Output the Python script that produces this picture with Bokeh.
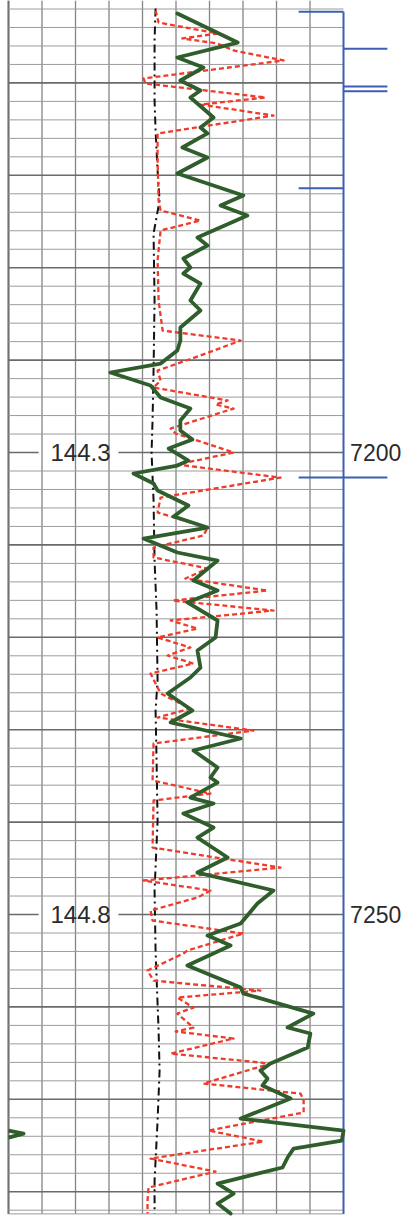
from bokeh.plotting import figure
from bokeh.models import Range1d
from bokeh.embed import file_html
from bokeh.resources import INLINE
from bokeh.core.properties import value

# ---- data (depth in ft, values in chart divisions 0-10) ----
green_depth = [7152.49, 7155.63, 7157.25, 7158.33, 7159.74, 7160.82, 7161.58, 7163.74, 7164.83, 7165.47,
               7166.99, 7168.07, 7169.80, 7172.18, 7173.27, 7174.35, 7176.73, 7177.60, 7179.00, 7179.98,
               7180.63, 7181.71, 7183.55, 7184.63, 7186.47, 7187.88, 7188.96, 7190.37, 7191.34, 7192.75,
               7194.05, 7195.24, 7196.54, 7197.62, 7198.59, 7199.57, 7200.87, 7201.41, 7202.27, 7203.36,
               7204.11, 7205.74, 7206.93, 7208.12, 7209.31, 7210.82, 7211.69, 7213.85, 7214.94, 7216.23,
               7218.18, 7220.02, 7221.43, 7223.27, 7224.35, 7226.08, 7227.92, 7229.22, 7230.95, 7232.25,
               7234.09, 7235.17, 7235.72, 7237.34, 7237.99, 7239.07, 7240.59, 7241.67, 7243.83, 7245.46,
               7247.40, 7248.81, 7250.98, 7252.28, 7253.36, 7255.52, 7257.90, 7258.55, 7260.72, 7262.23,
               7262.88, 7264.40, 7266.13, 7266.89, 7267.75, 7268.51, 7269.92, 7272.08, 7273.40, 7274.46,
               7275.33, 7276.30, 7277.38, 7279.12, 7280.20, 7281.28, 7282.36]
green_val = [5.04, 6.84, 5.04, 5.82, 5.13, 5.73, 5.43, 6.12, 5.73, 5.94,
             5.19, 5.94, 5.04, 7.01, 6.33, 7.13, 5.64, 5.94, 5.22, 5.43,
             5.22, 5.73, 5.43, 5.73, 5.13, 5.13, 5.04, 4.54, 3.04, 4.24,
             4.54, 5.43, 5.13, 5.13, 5.49, 4.78, 5.37, 5.04, 3.73, 4.33,
             4.45, 5.37, 4.93, 5.94, 4.03, 5.04, 6.24, 5.52, 6.24, 5.34,
             6.24, 6.18, 5.64, 5.73, 5.43, 4.75, 5.49, 4.84, 6.93, 5.52,
             6.24, 6.03, 6.24, 5.43, 6.12, 5.22, 6.12, 5.64, 6.54, 5.64,
             7.91, 7.43, 6.93, 5.94, 6.63, 5.34, 6.93, 7.01, 9.10, 8.33,
             9.01, 8.93, 7.82, 7.52, 7.73, 7.58, 8.42, 6.93, 10.0, 9.95,
             8.51, 8.33, 8.18, 6.24, 6.72, 6.24, 6.63]
# wrapped (backup) portion of the green curve shown at the left edge
green_wrap_depth = [7273.38, 7273.71, 7274.14]
green_wrap_val = [0.0, 0.45, 0.0]

red_depth = [7152.16, 7153.46, 7154.65, 7155.19, 7155.73, 7156.49, 7157.57, 7159.52, 7160.06, 7161.58,
             7162.34, 7163.53, 7165.47, 7168.40, 7172.73, 7173.81, 7174.89, 7175.97, 7179.22, 7183.55,
             7186.80, 7187.88, 7189.50, 7191.13, 7192.21, 7192.97, 7194.37, 7194.80, 7195.24, 7197.40,
             7197.94, 7200.00, 7201.30, 7202.71, 7204.87, 7206.49, 7208.12, 7208.98, 7210.28, 7211.36,
             7212.55, 7213.64, 7214.94, 7216.02, 7217.10, 7218.18, 7219.05, 7220.02, 7221.10, 7221.97,
             7222.84, 7223.92, 7226.08, 7227.71, 7228.68, 7230.09, 7231.49, 7235.50, 7236.91, 7237.66,
             7242.75, 7244.92, 7246.32, 7247.40, 7248.16, 7249.57, 7250.65, 7252.06, 7253.90, 7254.22,
             7256.06, 7257.15, 7258.23, 7258.99, 7260.07, 7260.72, 7262.23, 7262.66, 7263.42, 7265.05,
             7266.13, 7268.29, 7269.38, 7270.13, 7271.43, 7273.38, 7274.57, 7276.41, 7277.82, 7279.55,
             7280.96, 7282.36]
red_val = [4.39, 4.48, 6.24, 5.19, 6.24, 6.72, 8.21, 4.03, 4.09, 7.67,
           5.73, 7.91, 4.45, 4.45, 4.48, 4.54, 5.73, 4.54, 4.45, 4.48,
           4.60, 6.93, 5.73, 4.45, 4.54, 4.33, 6.54, 6.18, 6.72, 4.84,
           4.99, 6.72, 5.04, 8.12, 4.54, 4.45, 5.94, 5.82, 4.33, 4.33,
           5.94, 5.28, 7.73, 4.90, 7.91, 4.84, 5.64, 4.45, 5.43, 4.75,
           5.52, 4.24, 4.54, 5.43, 4.45, 7.31, 4.33, 4.30, 6.03, 4.33,
           4.30, 8.12, 4.03, 6.03, 5.64, 4.24, 4.30, 7.01, 5.34, 5.22,
           4.15, 4.33, 7.52, 5.04, 5.52, 5.04, 5.52, 4.99, 6.72, 4.84,
           7.82, 5.82, 8.72, 8.81, 8.81, 5.97, 7.61, 4.24, 6.18, 4.18,
           4.15, 4.15]

black_depth = [7151.95, 7155.41, 7161.90, 7165.15, 7169.48, 7172.73, 7176.30, 7183.55, 7191.13, 7196.54,
               7200.00, 7205.19, 7211.69, 7217.10, 7224.68, 7227.92, 7233.33, 7239.83, 7247.40, 7253.90,
               7262.56, 7266.89, 7272.30, 7278.79, 7282.36]
black_val = [4.39, 4.36, 4.36, 4.39, 4.45, 4.51, 4.33, 4.36, 4.33, 4.30,
             4.27, 4.33, 4.36, 4.42, 4.45, 4.39, 4.42, 4.45, 4.36, 4.39,
             4.48, 4.51, 4.45, 4.36, 4.36]

marker_left_depth = [7152.3, 7171.4, 7202.7]
marker_right_depth = [7156.3, 7160.4, 7160.9, 7202.7]

depth_labels = [7200, 7250]
left_labels = ["144.3", "144.8"]
right_labels = ["7200", "7250"]

view_top, view_bottom = 7151.08, 7282.79
grid_top, grid_bottom = 7151.08, 7282.4

p = figure(width=407, height=1217,
           x_range=Range1d(-0.2388, 11.910), y_range=Range1d(view_bottom, view_top),
           output_backend="svg", toolbar_location=None,
           x_axis_location=None, y_axis_location=None, min_border=0)
p.outline_line_color = None
p.grid.visible = False
p.background_fill_color = "white"
p.border_fill_color = "white"

# vertical grid
vx = list(range(0, 10))
p.segment(x0=vx, y0=[grid_top] * len(vx), x1=vx, y1=[grid_bottom] * len(vx),
          line_color="#858585", line_width=1.3)
p.segment(x0=[0], y0=[grid_top], x1=[0], y1=[grid_bottom], line_color="#707070", line_width=2)

# horizontal grid
thin, heavy = [], []
for d in range(7152, 7283, 2):
    if d in depth_labels:
        continue
    (heavy if d % 10 == 0 else thin).append(d)
thin.append(grid_bottom)
p.segment(x0=[0] * len(thin), y0=thin, x1=[10] * len(thin), y1=thin,
          line_color="#9c9c9c", line_width=1)
p.segment(x0=[0] * len(heavy), y0=heavy, x1=[10] * len(heavy), y1=heavy,
          line_color="#6a6a6a", line_width=1.6)
# labelled depth lines with gap for text
p.segment(x0=[0] * 2, y0=depth_labels, x1=[0.9] * 2, y1=depth_labels, line_color="#6a6a6a", line_width=1.6)
p.segment(x0=[3.28] * 2, y0=depth_labels, x1=[10] * 2, y1=depth_labels, line_color="#6a6a6a", line_width=1.6)

p.text(x=[2.15] * 2, y=depth_labels, text=left_labels, text_align="center", text_baseline="middle",
       text_font=value("Liberation Sans"), text_font_size="24px", text_color="#2b2b2b")
p.text(x=[10.96] * 2, y=depth_labels, text=right_labels, text_align="center", text_baseline="middle",
       text_font=value("Liberation Sans"), text_font_size="23px", text_color="#2b2b2b")

# blue marker track
p.segment(x0=[10], y0=[marker_left_depth[0]], x1=[10], y1=[grid_bottom],
          line_color="#3d5fb3", line_width=2)
p.segment(x0=[8.66] * len(marker_left_depth), y0=marker_left_depth, x1=[10] * len(marker_left_depth),
          y1=marker_left_depth, line_color="#3d5fb3", line_width=2)
p.segment(x0=[10] * len(marker_right_depth), y0=marker_right_depth, x1=[11.31] * len(marker_right_depth),
          y1=marker_right_depth, line_color="#3d5fb3", line_width=2)

# curves
p.line(black_val, black_depth, line_color="#111111", line_width=2, line_dash="8 4 2 4")
p.line(red_val, red_depth, line_color="#f03a2a", line_width=2.3, line_dash="5 3",
       line_join="round")
p.line(green_val, green_depth, line_color="#2f5e2c", line_width=3.8, line_join="round",
       line_cap="round")
p.line(green_wrap_val, green_wrap_depth, line_color="#2f5e2c", line_width=3.8, line_join="round")

open("out.html", "w").write(file_html(p, INLINE))
